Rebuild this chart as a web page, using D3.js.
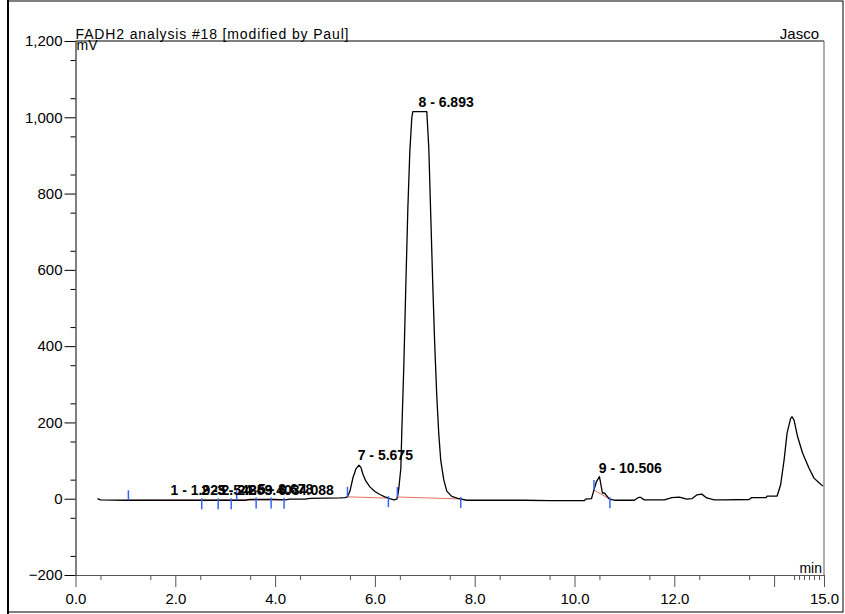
<!DOCTYPE html>
<html lang="en">
<head>
  <meta charset="UTF-8" />
  <title>FADH2 analysis #18</title>
  <script src="https://d3js.org/d3.v7.min.js"></script>
  <style>
    body { margin: 0; background: #fff; }
    svg { display: block; font-family: "Liberation Sans", Arial, sans-serif; }
    .axis text { font-size: 15px; fill: #000; }
    .peak-label { font-size: 14px; font-weight: bold; }
  </style>
</head>
<body>
  <div id="chart"></div>

  <script>
    // ----- Data -----
    // trace (time in min, signal in mV)
    const traceTime = [0.44, 0.5, 1.0, 1.5, 2.0, 2.5, 3.0, 3.4, 3.5, 3.9, 4.0, 4.2, 4.3, 4.6, 4.7, 5.0, 5.3, 5.4,
      5.45, 5.5, 5.56, 5.62, 5.68, 5.72, 5.76, 5.82, 5.9, 6.0, 6.1, 6.2, 6.3, 6.38, 6.44,
      6.46, 6.48, 6.52, 6.54, 6.58, 6.62, 6.66, 6.70, 6.74, 6.76, 7.04, 7.08, 7.12, 7.16, 7.2, 7.24, 7.28,
      7.32, 7.38, 7.44, 7.54, 7.66, 7.84, 9.0, 9.5, 10.2, 10.22, 10.34, 10.37, 10.44, 10.5, 10.56, 10.6,
      10.7, 10.8, 11.2, 11.28, 11.32, 11.4, 11.8, 11.95, 12.1, 12.25, 12.35, 12.45, 12.55, 12.65, 12.8,
      13.0, 13.5, 13.55, 13.84, 13.86, 14.06, 14.13, 14.2, 14.26, 14.33, 14.36, 14.4, 14.47, 14.57, 14.7,
      14.8, 14.9, 14.98];
    const traceMv = [0, -3, -4, -4, -4, -4, -4, -4, -2, -2, -2, -3, -1, -1, 1, 1.5, 2, 3,
      5, 20, 55, 78, 88, 82, 64, 46, 31, 19, 11, 5, 0, -3, -1,
      10, 28, 80, 180, 350, 560, 760, 910, 1000, 1015, 1015, 920, 740, 560, 400, 270, 170,
      100, 50, 20, 6, 1, -4, -4, -5, -5, -1, 0, 14, 45, 58, 15, 15,
      -1, -4, -4, 3, 4, -3, -3, 3, 4, -1, 0, 10, 12, 2, -3,
      -3, -2, 3, 3, 7, 7, 36, 101, 172, 210, 215, 206, 163, 120, 80,
      54, 42, 33];

    // integrated peaks
    const peakNum  = [1, 2, 3, 4, 5, 6, 7, 8, 9];
    const peakTime = [1.925, 2.542, 2.859, 3.403, 3.678, 4.088, 5.675, 6.893, 10.506];

    // integration markers (blue) and baselines (red)
    const markerTime = [1.06, 2.53, 2.86, 3.12, 3.23, 3.62, 3.92, 4.18, 5.45, 6.27, 6.45, 7.72, 10.39, 10.71];
    const markerDir  = ['up', 'down', 'down', 'down', 'up', 'down', 'down', 'down', 'up', 'down', 'up', 'down', 'up', 'down'];
    const baseStart  = [1.06, 5.45, 6.45, 10.39];
    const baseEnd    = [4.18, 6.27, 7.72, 10.71];

    // axis ticks
    const xMajor = [0, 2, 4, 6, 8, 10, 12, 14, 15];
    const xLabelled = [0, 2, 4, 6, 8, 10, 12, 15];
    const xMinor = d3.range(0.5, 15, 1).concat([14.4, 14.6, 14.7, 14.8, 14.9]);
    const yMajor = [-200, 0, 200, 400, 600, 800, 1000, 1200];
    const yMinor = d3.range(-150, 1200, 100);

    // ----- Setup SVG -----
    const width = 845, height = 614;
    const margin = { top: 41, right: 21, bottom: 39, left: 75.5 };

    const svg = d3.select('#chart').append('svg')
      .attr('width', width)
      .attr('height', height);

    // outer frame
    svg.append('rect')
      .attr('x', 8).attr('y', 1)
      .attr('width', 835).attr('height', 611)
      .attr('fill', 'none')
      .attr('stroke', '#000')
      .attr('stroke-width', 1);
    svg.append('line')
      .attr('x1', 8).attr('x2', 8).attr('y1', 0).attr('y2', height)
      .attr('stroke', '#000').attr('stroke-width', 2);

    const x = d3.scaleLinear().domain([0, 15]).range([margin.left, width - margin.right]);
    const y = d3.scaleLinear().domain([-200, 1200]).range([height - margin.bottom, margin.top]);

    const valueAt = t => {
      const i = d3.bisectLeft(traceTime, t);
      if (i <= 0) return traceMv[0];
      if (i >= traceTime.length) return traceMv[traceMv.length - 1];
      const t0 = traceTime[i - 1], t1 = traceTime[i];
      return traceMv[i - 1] + (traceMv[i] - traceMv[i - 1]) * (t - t0) / (t1 - t0);
    };

    // ----- Axes -----
    const xAxis = svg.append('g')
      .attr('class', 'axis')
      .attr('transform', `translate(0,${y(-200)})`)
      .call(d3.axisBottom(x).tickValues(xMajor).tickSize(12).tickSizeOuter(0).tickPadding(6)
        .tickFormat(d => xLabelled.includes(d) ? d3.format('.1f')(d) : ''));
    xAxis.select('.domain').attr('stroke', '#555');
    xAxis.selectAll('.tick line').attr('stroke', '#555');

    svg.append('g')
      .attr('transform', `translate(0,${y(-200)})`)
      .call(d3.axisBottom(x).tickValues(xMinor).tickSize(5).tickFormat(''))
      .call(g => g.select('.domain').remove())
      .selectAll('.tick line').attr('stroke', '#555');

    svg.append('g')
      .attr('class', 'axis')
      .attr('transform', `translate(${x(0)},0)`)
      .call(d3.axisLeft(y).tickValues(yMajor).tickSize(11).tickSizeOuter(0).tickPadding(2)
        .tickFormat(d3.format(',')));

    svg.append('g')
      .attr('transform', `translate(${x(0)},0)`)
      .call(d3.axisLeft(y).tickValues(yMinor).tickSize(5).tickFormat(''))
      .call(g => g.select('.domain').remove());

    // top and right border of plot
    svg.append('line')
      .attr('x1', x(0)).attr('x2', x(15)).attr('y1', y(1200)).attr('y2', y(1200))
      .attr('stroke', '#000');
    svg.append('line')
      .attr('x1', x(15)).attr('x2', x(15)).attr('y1', y(1200)).attr('y2', y(-200))
      .attr('stroke', '#777').attr('stroke-width', 1.2);

    // ----- Texts -----
    svg.append('text')
      .attr('x', x(0)).attr('y', 38.5)
      .attr('font-size', '14px')
      .attr('textLength', 273).attr('lengthAdjust', 'spacing')
      .text('FADH2 analysis #18 [modified by Paul]');
    svg.append('text')
      .attr('x', x(0) + 1).attr('y', 50)
      .attr('font-size', '14px')
      .text('mV');
    svg.append('text')
      .attr('x', 819).attr('y', 39)
      .attr('font-size', '15px')
      .attr('text-anchor', 'end')
      .text('Jasco');
    svg.append('text')
      .attr('x', 822).attr('y', 573)
      .attr('font-size', '14px')
      .attr('text-anchor', 'end')
      .text('min');

    // ----- Integration baselines -----
    baseStart.forEach((t0, i) => {
      const t1 = baseEnd[i];
      svg.append('line')
        .attr('x1', x(t0)).attr('y1', y(valueAt(t0)))
        .attr('x2', x(t1)).attr('y2', y(valueAt(t1)))
        .attr('stroke', '#ee6f5f')
        .attr('stroke-width', 1);
    });

    // ----- Trace -----
    const line = d3.line()
      .x((d, i) => x(traceTime[i]))
      .y(d => y(d));

    svg.append('path')
      .datum(traceMv)
      .attr('d', line)
      .attr('fill', 'none')
      .attr('stroke', '#000')
      .attr('stroke-width', 1.3)
      .attr('stroke-linejoin', 'round');

    // ----- Markers -----
    markerTime.forEach((t, i) => {
      const yv = y(valueAt(t));
      svg.append('line')
        .attr('x1', x(t)).attr('x2', x(t))
        .attr('y1', markerDir[i] === 'up' ? yv - 10 : yv - 2)
        .attr('y2', markerDir[i] === 'up' ? yv : yv + 9)
        .attr('stroke', '#3366ff')
        .attr('stroke-width', 1.5);
    });

    // ----- Peak labels -----
    peakTime.forEach((t, i) => {
      svg.append('text')
        .attr('class', 'peak-label')
        .attr('x', x(t) - 1)
        .attr('y', y(valueAt(t)) - 5)
        .text(`${peakNum[i]} - ${d3.format('.3f')(t)}`);
    });
  </script>
</body>
</html>
